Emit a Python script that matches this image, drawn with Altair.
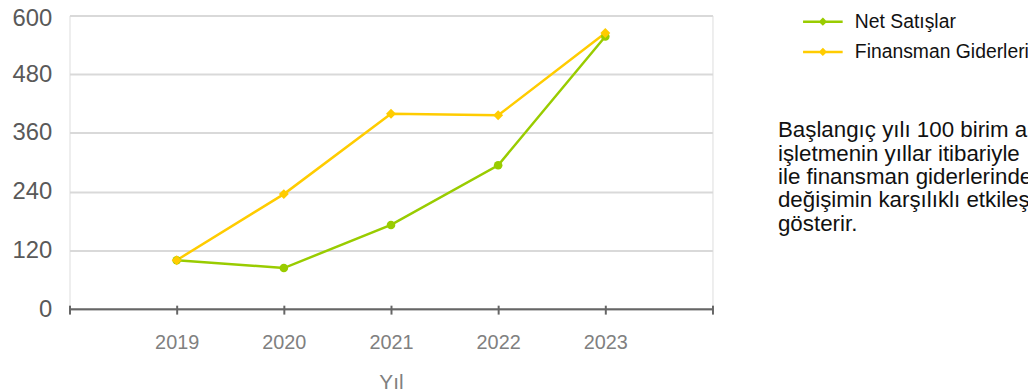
import altair as alt
import pandas as pd

years = [2019, 2020, 2021, 2022, 2023]
net_satislar = [100, 84, 172, 294, 557]
finansman = [100, 235, 399, 396, 564]
series_names = ["Net Satışlar", "Finansman Giderleri"]
series_colors = ["#99CC00", "#FFCC00"]
series_shapes = ["circle", "diamond"]
series_sizes = [75, 100]
y_ticks = [0, 120, 240, 360, 480, 600]
x_ticks = [2018, 2019, 2020, 2021, 2022, 2023, 2024]
note_lines = [
    "Başlangıç yılı 100 birim alınarak,",
    "işletmenin yıllar itibariyle",
    "ile finansman giderlerindeki",
    "değişimin karşılıklı etkileşimini",
    "gösterir.",
]

FONT = "Liberation Sans"

rows = []
for name, vals in zip(series_names, [net_satislar, finansman]):
    for yr, v in zip(years, vals):
        rows.append({"Yıl": yr, "Değer": v, "Seri": name})
df = pd.DataFrame(rows)

x_enc = alt.X(
    "Yıl:Q",
    scale=alt.Scale(domain=[x_ticks[0], x_ticks[-1]], nice=False, zero=False),
    axis=alt.Axis(
        values=x_ticks,
        format="d",
        labelExpr="(datum.value < 2019 || datum.value > 2023) ? '' : datum.label",
        domain=False,
        grid=False,
        tickSize=9,
        tickWidth=2,
        tickColor="#666666",
        offset=-4,
        labelFontSize=20,
        labelColor="#808080",
        labelFont=FONT,
        labelPadding=19,
        title="Yıl",
        titleFont=FONT,
        titleFontSize=21,
        titleColor="#808080",
        titleFontWeight="normal",
        titlePadding=19,
    ),
)
y_enc = alt.Y(
    "Değer:Q",
    scale=alt.Scale(domain=[y_ticks[0], y_ticks[-1]], nice=False),
    axis=alt.Axis(
        values=y_ticks,
        domain=False,
        ticks=False,
        gridColor="#d9d9d9",
        gridWidth=2,
        labelFontSize=24,
        labelColor="#595959",
        labelFont=FONT,
        labelPadding=18,
        labelOffset={"condition": {"test": "datum.value == 600", "value": 3}, "value": 0},
        title=None,
    ),
)

lines = alt.Chart(df).mark_line(strokeWidth=2.5).encode(
    x=x_enc,
    y=y_enc,
    color=alt.Color(
        "Seri:N",
        scale=alt.Scale(domain=series_names, range=series_colors),
        sort=series_names,
        legend=alt.Legend(
            orient="none",
            legendX=749.5,
            legendY=-3.5,
            title=None,
            padding=0,
            symbolType="M-2.42,0H2.42M0,-0.3L0.3,0L0,0.3L-0.3,0Z",
            symbolSize=272,
            symbolStrokeWidth=2.5,
            labelFont=FONT,
            labelFontSize=19.5,
            labelColor="#111111",
            labelOffset=22.5,
            rowPadding=9.5,
            labelLimit=400,
        ),
    ),
    order=alt.Order("Yıl:Q"),
)

point_layers = []
for name, col, shp, sz in zip(series_names, series_colors, series_shapes, series_sizes):
    point_layers.append(
        alt.Chart(df)
        .transform_filter(alt.datum.Seri == name)
        .mark_point(filled=True, opacity=1, color=col, shape=shp, size=sz)
        .encode(x="Yıl:Q", y="Değer:Q")
    )

base_df = pd.DataFrame({"Yıl": [x_ticks[0]], "Yıl_end": [x_ticks[-1]], "Değer": [0]})
baseline = alt.Chart(base_df).mark_rule(color="#666666", strokeWidth=2).encode(
    x="Yıl:Q", x2="Yıl_end:Q", y="Değer:Q"
)

note = alt.Chart(pd.DataFrame({"k": [0]})).mark_text(
    align="left", baseline="alphabetic", font=FONT, fontSize=22.5, lineHeight=23.5, color="#111111"
).encode(
    x=alt.value(714), y=alt.value(123), text=alt.value(note_lines)
)

chart = alt.layer(baseline, lines, *point_layers, note).properties(
    width=648,
    height=296,
    autosize=alt.AutoSizeParams(type="none"),
    padding={"left": 62, "top": 6, "right": 318, "bottom": 82},
).configure_view(stroke=None).configure(font=FONT)

chart.save("out.html", embed_options={"renderer": "svg", "actions": False})
